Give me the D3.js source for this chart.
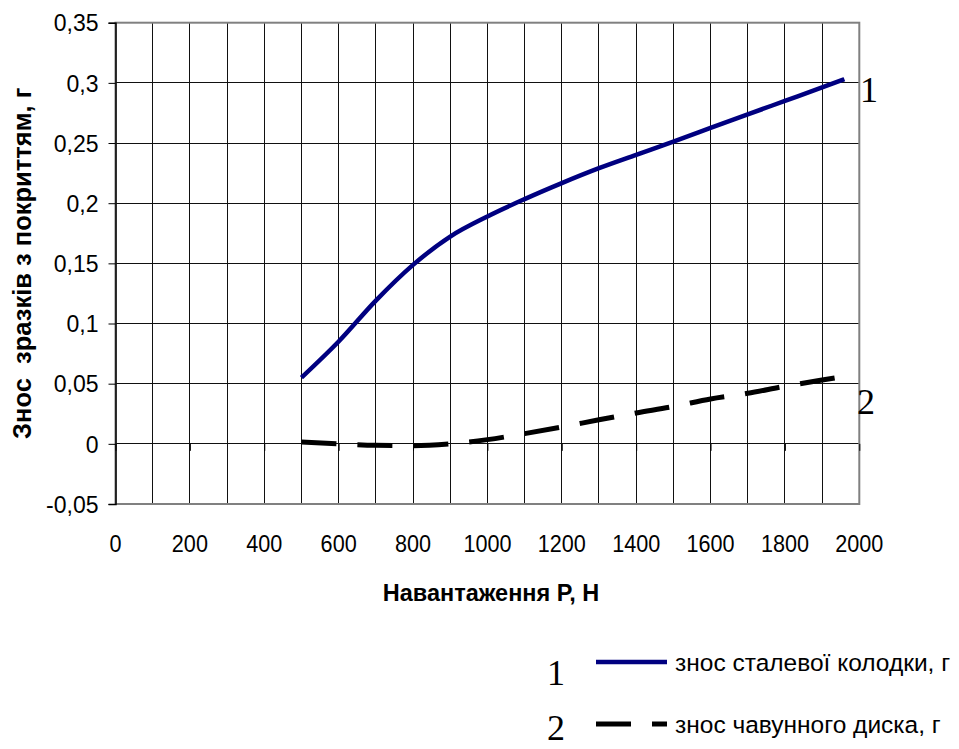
<!DOCTYPE html>
<html>
<head>
<meta charset="utf-8">
<script src="https://cdn.jsdelivr.net/npm/d3@7/dist/d3.min.js"></script>
<style>
  html, body { margin: 0; padding: 0; background: #fff; }
  svg { display: block; }
  text { font-family: "Liberation Sans", Arial, sans-serif; fill: #000; white-space: pre; }
  .num { font-family: "Liberation Serif", "Times New Roman", serif; }
</style>
</head>
<body>
<svg id="chart" width="959" height="749"></svg>
<script>
// Load on the sample, N
const loads = [500, 600, 700, 800, 900, 1000, 1100, 1200, 1300, 1400, 1500, 1600, 1700, 1800, 1900, 1960];
// Wear of the steel block, g (curve 1)
const steelWear = [0.055, 0.085, 0.119, 0.1487, 0.1723, 0.189, 0.2034, 0.2167, 0.2291, 0.2402, 0.2512, 0.2625, 0.2738, 0.285, 0.2962, 0.303];
// Wear of the cast-iron disc, g (curve 2)
const ironWear = [0.0015, 0.0, -0.0012, -0.0015, 0.0, 0.0035, 0.0085, 0.014, 0.020, 0.0257, 0.031, 0.0373, 0.042, 0.0478, 0.053, 0.056];

const xTicks = [0, 200, 400, 600, 800, 1000, 1200, 1400, 1600, 1800, 2000];
const yTicks = [-0.05, 0, 0.05, 0.1, 0.15, 0.2, 0.25, 0.3, 0.35];
const xGrid = d3.range(0, 2001, 100);

const seriesNames = ["знос сталевої колодки, г", "знос чавунного диска, г"];
const xTitle = "Навантаження Р, Н";
const yTitle = "Знос  зразків з покриттям, г";

const svg = d3.select("#chart");
const plot = { left: 115.5, right: 859.3, top: 22.7, bottom: 504 };

const x = d3.scaleLinear().domain([0, 2000]).range([plot.left, plot.right]);
const y = d3.scaleLinear().domain([-0.05, 0.35]).range([plot.bottom, plot.top]);

const fmt = v => {
  if (Math.abs(v) < 1e-9) return "0";
  return String(+v.toFixed(2)).replace(".", ",");
};

// gridlines
const grid = svg.append("g").attr("shape-rendering", "crispEdges");
grid.selectAll("line.v").data(xGrid).join("line")
  .attr("x1", d => x(d)).attr("x2", d => x(d))
  .attr("y1", plot.top).attr("y2", plot.bottom)
  .attr("stroke", "#111").attr("stroke-width", 1);
grid.selectAll("line.h").data(yTicks).join("line")
  .attr("x1", plot.left).attr("x2", plot.right)
  .attr("y1", d => y(d)).attr("y2", d => y(d))
  .attr("stroke", "#111").attr("stroke-width", 1);

// plot frame
svg.append("rect")
  .attr("x", plot.left).attr("y", plot.top)
  .attr("width", plot.right - plot.left).attr("height", plot.bottom - plot.top)
  .attr("fill", "none").attr("stroke", "#808080").attr("stroke-width", 2);

// value axis (left)
const yAxis = svg.append("g")
  .attr("transform", `translate(${plot.left},0)`)
  .call(d3.axisLeft(y).tickValues(yTicks).tickFormat(fmt).tickSize(7).tickPadding(10));
yAxis.select(".domain").attr("stroke", "#000").attr("stroke-width", 1.5);
yAxis.selectAll(".tick line").attr("stroke", "#000");
yAxis.selectAll("text").style("font-size", "23px").attr("dy", "0.36em");

// category axis crossing at zero, labels placed below the plot
const xAxis = svg.append("g")
  .attr("transform", `translate(0,${y(0)})`)
  .call(d3.axisBottom(x).tickValues(xTicks).tickSize(7).tickFormat(""));
xAxis.select(".domain").remove();
xAxis.selectAll(".tick line").attr("stroke", "#000");

svg.append("g").selectAll("text").data(xTicks).join("text")
  .attr("transform", d => `translate(${x(d)},552) scale(0.9,1)`)
  .attr("text-anchor", "middle")
  .style("font-size", "24px")
  .text(d => d);

// axis titles
svg.append("text")
  .attr("x", 491).attr("y", 601)
  .attr("text-anchor", "middle")
  .style("font-size", "23.5px").style("font-weight", "bold")
  .text(xTitle);
svg.append("text")
  .attr("transform", `translate(31,${(plot.top + plot.bottom) / 2}) rotate(-90)`)
  .attr("text-anchor", "middle")
  .style("font-size", "25.5px").style("font-weight", "bold")
  .text(yTitle);

// curves
const steelData = loads.map((p, i) => [p, steelWear[i]]);
const ironData = loads.map((p, i) => [p, ironWear[i]]);
const line = d3.line().x(d => x(d[0])).y(d => y(d[1])).curve(d3.curveMonotoneX);

svg.append("path").datum(steelData)
  .attr("d", line).attr("fill", "none")
  .attr("stroke", "#000080").attr("stroke-width", 4.5);
svg.append("path").datum(ironData)
  .attr("d", line).attr("fill", "none")
  .attr("stroke", "#000").attr("stroke-width", 5)
  .attr("stroke-dasharray", "35,21");

// curve numbers
svg.append("text").attr("class", "num")
  .attr("x", 860).attr("y", 102).style("font-size", "36px").text("1");
svg.append("text").attr("class", "num")
  .attr("x", 857).attr("y", 414).style("font-size", "36px").text("2");

// legend
const legend = svg.append("g");
const rows = [
  { name: seriesNames[0], color: "#000080", dash: null, yLine: 662, num: "1", yNum: 685 },
  { name: seriesNames[1], color: "#000", dash: "35,21", yLine: 724, num: "2", yNum: 740 }
];
rows.forEach(r => {
  legend.append("line")
    .attr("x1", 596).attr("x2", 667)
    .attr("y1", r.yLine).attr("y2", r.yLine)
    .attr("stroke", r.color).attr("stroke-width", r.dash ? 5 : 4.5)
    .attr("stroke-dasharray", r.dash);
  legend.append("text")
    .attr("x", 675).attr("y", r.yLine).attr("dy", "0.36em")
    .style("font-size", "24.5px").text(r.name);
  legend.append("text").attr("class", "num")
    .attr("x", 547).attr("y", r.yNum)
    .style("font-size", "36px").text(r.num);
});
</script>
</body>
</html>
